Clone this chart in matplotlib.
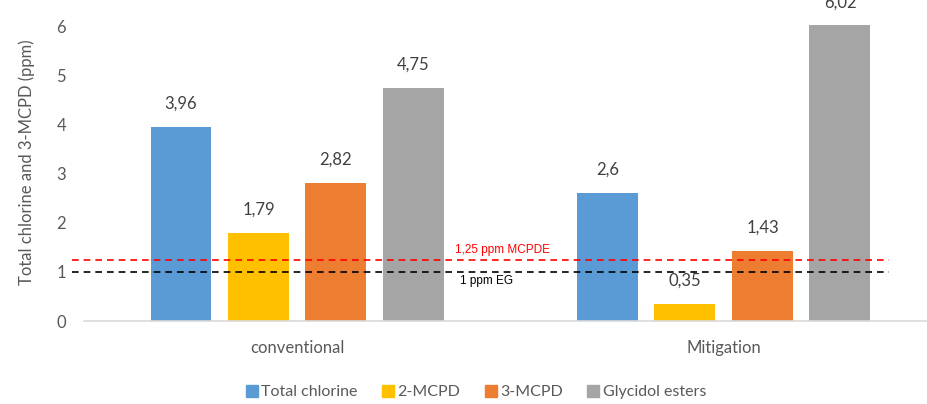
import matplotlib.pyplot as plt
from matplotlib.lines import Line2D
import numpy as np

plt.rcParams['font.family'] = ['Lato', 'DejaVu Sans']

groups = ["conventional", "Mitigation"]
series = ["Total chlorine", "2-MCPD", "3-MCPD", "Glycidol esters"]
total_chlorine = [3.96, 2.6]
mcpd_2 = [1.79, 0.35]
mcpd_3 = [2.82, 1.43]
glycidol = [4.75, 6.02]
labels = [["3,96", "2,6"], ["1,79", "0,35"], ["2,82", "1,43"], ["4,75", "6,02"]]
limit_mcpde = 1.25
limit_eg = 1.0

colors = ["#5B9BD5", "#FFC000", "#ED7D31", "#A5A5A5"]
text_color = "#595959"

fig = plt.figure(figsize=(9.28, 4.04), dpi=100)
ax = fig.add_axes([84 / 928, 83 / 404, 844 / 928, 297 / 404])

x = np.arange(len(groups))
step = 0.1817
width = 0.143
values = [total_chlorine, mcpd_2, mcpd_3, glycidol]
for i, (vals, col, lab) in enumerate(zip(values, colors, labels)):
    pos = x + (i - 1.5) * step
    ax.bar(pos, vals, width, color=col, zorder=2)
    for p, v, t in zip(pos, vals, lab):
        ax.annotate(t, (p, v), xytext=(0, 11), textcoords="offset points",
                    ha="center", va="bottom", fontsize=12, color="#404040")

# reference limits drawn across the plot
ax.plot([-0.528, 1.388], [limit_mcpde, limit_mcpde], color="red", lw=1.2,
        dashes=(4, 3), clip_on=False, zorder=3)
ax.plot([-0.528, 1.388], [limit_eg, limit_eg], color="black", lw=1.2,
        dashes=(4, 3), clip_on=False, zorder=3)
ax.text(0.481, limit_mcpde + 0.08, "1,25 ppm MCPDE", color="red",
        fontsize=8.5, family="Liberation Sans", ha="center", va="bottom")
ax.text(0.443, limit_eg - 0.07, "1 ppm EG", color="black",
        fontsize=8.5, family="Liberation Sans", ha="center", va="top")

ax.set_xlim(-0.5, 1.479)
ax.set_ylim(0, 6.05)
ax.set_yticks(range(0, 7))
ax.set_xticks(x)
ax.set_xticklabels(groups)
ax.tick_params(axis="both", length=0, labelsize=12, labelcolor=text_color)
ax.tick_params(axis="y", pad=13)
ax.tick_params(axis="x", pad=14)
for s in ["top", "right", "left"]:
    ax.spines[s].set_visible(False)
ax.spines["bottom"].set_color("#D9D9D9")
ax.spines["bottom"].set_linewidth(1.2)
ax.set_ylabel("Total chlorine and 3-MCPD (ppm)", fontsize=12, color=text_color)
ax.yaxis.set_label_coords(35 / 928, 1 - 162 / 404, transform=fig.transFigure)

handles = [Line2D([], [], marker="s", ls="", markersize=8, color=c) for c in colors]
fig.legend(handles, series, loc="center", bbox_to_anchor=(475 / 928, 1 - 392 / 404),
           ncol=4, frameon=False, fontsize=11.5, labelcolor=text_color,
           handletextpad=0.1, columnspacing=1.4, handlelength=1.0)

fig.savefig("out.png", dpi=100)
